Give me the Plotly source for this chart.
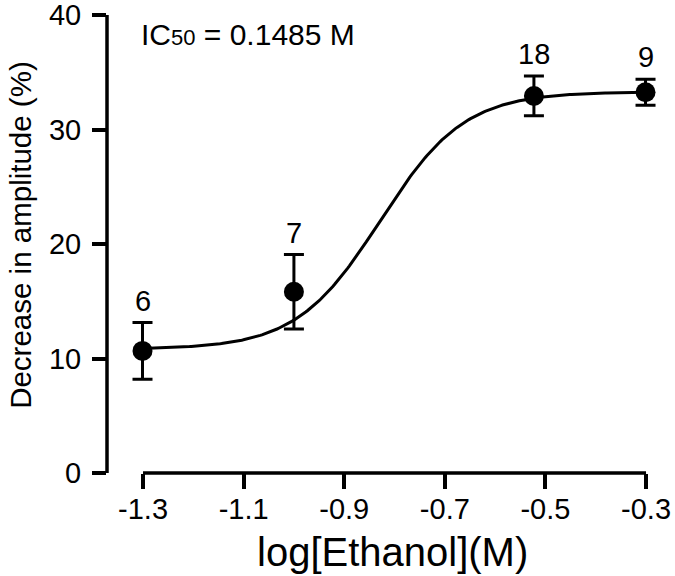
import numpy as np
import plotly.graph_objects as go

# Data
conc_M = [0.05, 0.1, 0.3, 0.5]
log_conc = [float(np.log10(c)) for c in conc_M]
decrease_pct = [10.66, 15.83, 32.93, 33.25]
sem = [2.48, 3.25, 1.74, 1.14]
n_labels = ["6", "7", "18", "9"]

# Hill fit parameters
fit_bottom = 10.8
fit_top = 33.3
ic50_M = 0.1485
hill_slope = 5.2

x_ticks = [-1.3, -1.1, -0.9, -0.7, -0.5, -0.3]
x_ticktext = ["-1.3", "-1.1", "-0.9", "-0.7", "-0.5", "-0.3"]
y_ticks = [0, 10, 20, 30, 40]

FONT = "Arial, Liberation Sans, sans-serif"

xc = np.linspace(log_conc[0], log_conc[-1], 300)
yc = fit_bottom + (fit_top - fit_bottom) / (1 + 10 ** ((np.log10(ic50_M) - xc) * hill_slope))

fig = go.Figure()
fig.add_trace(go.Scatter(x=xc, y=yc, mode="lines", line=dict(color="black", width=3),
                         hoverinfo="skip", cliponaxis=False))
fig.add_trace(go.Scatter(
    x=log_conc, y=decrease_pct, mode="markers",
    marker=dict(color="black", size=20),
    error_y=dict(type="data", array=sem, visible=True, color="black", thickness=3, width=10),
    cliponaxis=False))

annotations = []
for x, y, e, t in zip(log_conc, decrease_pct, sem, n_labels):
    annotations.append(dict(x=x, y=y + e, xref="x", yref="y", text=t, showarrow=False,
                            yanchor="bottom", xanchor="center", yshift=4,
                            font=dict(family=FONT, size=29, color="black")))
annotations.append(dict(x=log_conc[0], y=38.3, xref="x", yref="y", xanchor="left", yanchor="middle",
                        xshift=-4,
                        text="IC<span style=\"font-size:22px\">50</span> = %.4f M" % ic50_M,
                        showarrow=False, font=dict(family=FONT, size=30, color="black")))
annotations.append(dict(x=0.5125, y=0, xref="paper", yref="paper", yshift=-79, xanchor="center",
                        yanchor="middle", text="log[Ethanol](M)", showarrow=False,
                        font=dict(family=FONT, size=40, color="black")))
annotations.append(dict(x=0, y=0.52, xref="paper", yref="paper", xshift=-86, xanchor="center",
                        yanchor="middle", textangle=-90, text="Decrease in amplitude (%)",
                        showarrow=False, font=dict(family=FONT, size=29.5, color="black")))

shapes = [
    dict(type="line", xref="x", yref="paper", x0=-1.3, x1=-0.3, y0=0, y1=0,
         line=dict(color="black", width=3.5)),
    dict(type="line", xref="paper", yref="y", x0=0, x1=0, y0=0, y1=40,
         line=dict(color="black", width=3.5)),
]

fig.update_layout(
    width=675, height=576,
    margin=dict(l=107, r=10, t=15, b=103, autoexpand=False),
    plot_bgcolor="white", paper_bgcolor="white",
    showlegend=False,
    font=dict(family=FONT, color="black"),
    xaxis=dict(range=[-1.3716, -0.2623], showline=False, showgrid=False, zeroline=False,
               automargin=False, ticklabeloverflow="allow", ticklabelstandoff=-5,
               ticks="outside", ticklen=15, tickwidth=3.5, tickcolor="black",
               tickvals=x_ticks, ticktext=x_ticktext,
               tickfont=dict(family=FONT, size=29, color="black")),
    yaxis=dict(range=[0, 40], showline=False, showgrid=False, zeroline=False,
               automargin=False, ticklabeloverflow="allow", ticklabelstandoff=5,
               ticks="outside", ticklen=14, tickwidth=3.5, tickcolor="black",
               tickvals=y_ticks, tickfont=dict(family=FONT, size=29, color="black")),
    annotations=annotations,
    shapes=shapes,
)

fig.write_html("out.html", config={"displayModeBar": False},
               post_script="document.body.style.margin='0';document.body.style.overflow='hidden';")
